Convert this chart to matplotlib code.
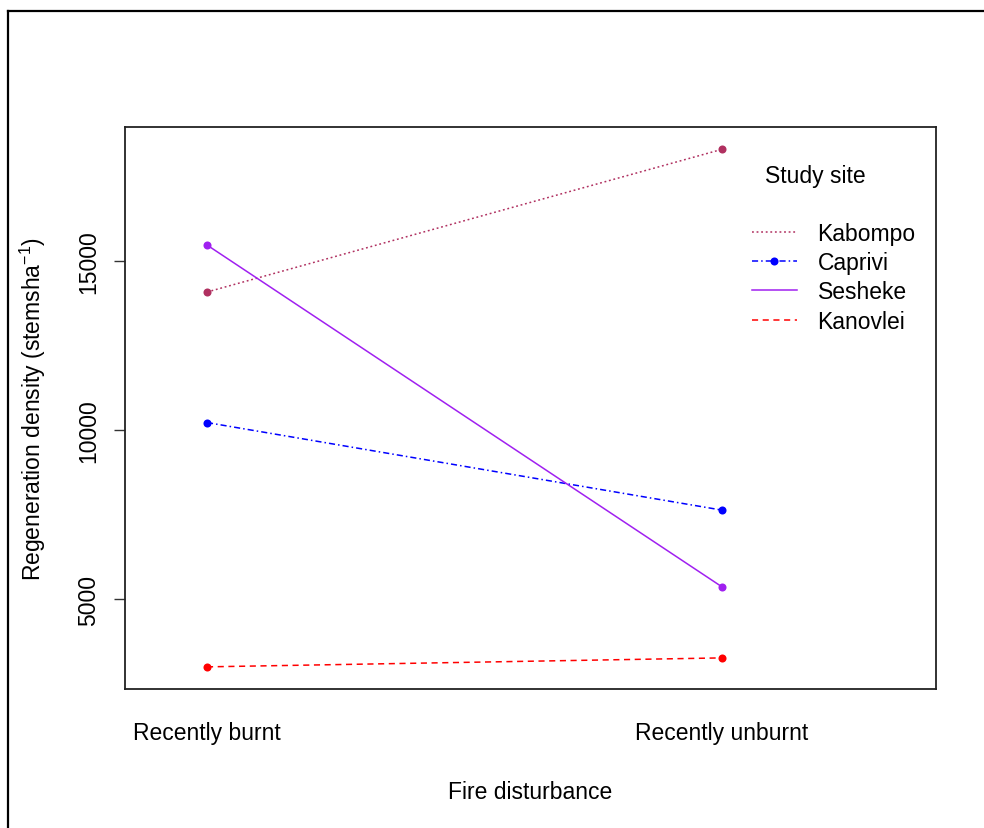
import matplotlib
matplotlib.use('Agg')
import matplotlib.pyplot as plt
from matplotlib.lines import Line2D

plt.rcParams['font.family'] = ['Liberation Sans', 'DejaVu Sans']

# Mean regeneration density per site and fire history
disturbance = ['Recently burnt', 'Recently unburnt']
sites = ['Kabompo', 'Caprivi', 'Sesheke', 'Kanovlei']
kabompo = [14080, 18300]
caprivi = [10220, 7630]
sesheke = [15470, 5360]
kanovlei = [2995, 3260]

site_values = [kabompo, caprivi, sesheke, kanovlei]
site_colors = ['#B03060', '#0000FF', '#A020F0', '#FF0000']
site_styles = [(0, (1.2, 1.8)), (0, (4, 2, 1, 2)), '-', (0, (4, 3))]
legend_marker = ['', 'o', '', '']

FS = 16.5
W, H = 984, 829
fig = plt.figure(figsize=(W / 100, H / 100), dpi=100)
ax = fig.add_axes([125 / W, (H - 690) / H, (936 - 125) / W, (690 - 128) / H])

x = [1, 2]
for vals, col, ls in zip(site_values, site_colors, site_styles):
    ax.plot(x, vals, color=col, linestyle=ls, linewidth=1.1)
    ax.plot(x, vals, linestyle='none', marker='o', markersize=5.8,
            color=col, markeredgewidth=0)

ax.set_xlim(0.8408, 2.4155)
ax.set_ylim(2340, 18960)

ax.set_yticks([5000, 10000, 15000])
ax.set_yticklabels(['5000', '10000', '15000'], rotation=90, va='center', fontsize=FS)
ax.tick_params(axis='y', length=8, width=1, pad=10, color='#333333')
ax.set_xticks(x)
ax.set_xticklabels(disturbance, fontsize=FS)
ax.tick_params(axis='x', length=0, pad=23)

for sp in ax.spines.values():
    sp.set_linewidth(1.3)
    sp.set_color('#222222')

ax.set_xlabel('Fire disturbance', fontsize=FS, labelpad=26)
ax.set_ylabel('Regeneration density (stemsha$^{\\mathregular{-1}}$)', fontsize=FS, labelpad=21)

# legend: title drawn separately so it can sit above the entries
ax.text(765, H - 177, 'Study site', transform=None, fontsize=FS, va='center', ha='left')
handles = [Line2D([], [], color=c, linestyle=ls, linewidth=1.1, marker=m, markersize=5.8,
                  markeredgewidth=0)
           for c, ls, m in zip(site_colors, site_styles, legend_marker)]
leg = ax.legend(handles, sites, loc='upper left', bbox_to_anchor=(752 / W, (H - 223) / H),
                bbox_transform=fig.transFigure, frameon=False, fontsize=FS,
                handlelength=1.96, handletextpad=0.9, labelspacing=0.27, borderpad=0,
                borderaxespad=0)

# partial outer frame
fig.add_artist(Line2D([8 / W, 8 / W], [0, (H - 12) / H], transform=fig.transFigure,
                      color='black', linewidth=1.6))
fig.add_artist(Line2D([8 / W, 1], [(H - 12) / H, (H - 12) / H], transform=fig.transFigure,
                      color='black', linewidth=1.6))

fig.savefig('out.png', dpi=100)
